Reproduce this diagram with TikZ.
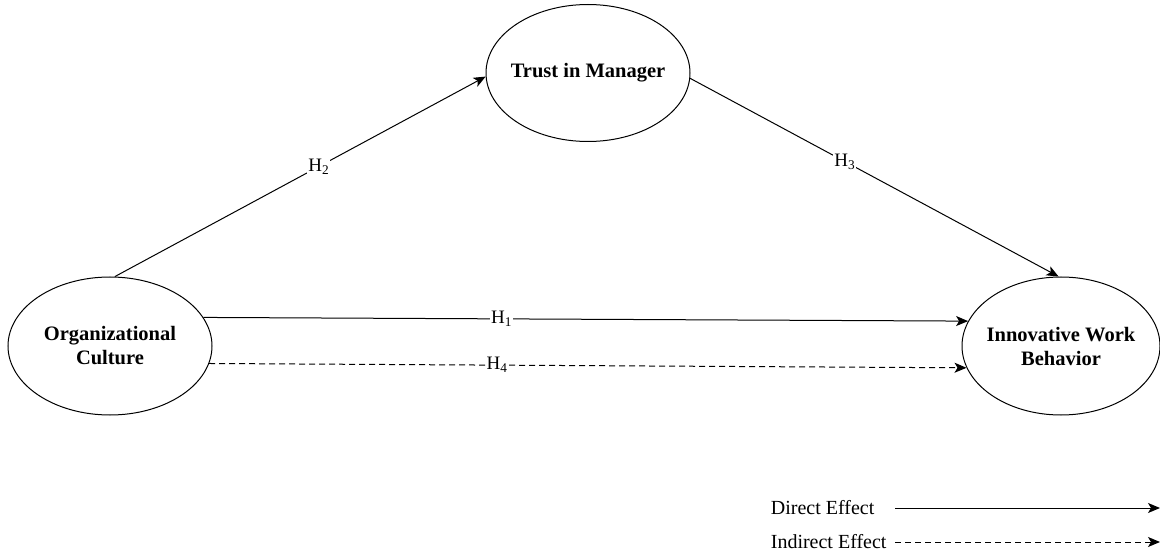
\documentclass[tikz,border=0pt]{standalone}
\usepackage{fontspec}
\setmainfont{Liberation Serif}
\usetikzlibrary{arrows.meta,positioning,shapes.geometric}

\begin{document}
\begin{tikzpicture}[x=1pt,y=-1pt,line width=1pt,every node/.style={font=\fontsize{19}{22}\selectfont},
  var/.style={draw,ellipse,inner xsep=-20pt,inner ysep=0pt,align=center,font=\fontsize{20.5}{24}\selectfont\bfseries},
  lbl/.style={fill=white,inner sep=1pt},
  eff/.style={-{Stealth[length=12pt,width=10pt,inset=3pt]}},
  ind/.style={eff,dash pattern=on 6pt off 4pt}]
\useasboundingbox (0,0) rectangle (1160,556);
\node[var,minimum width=204pt,minimum height=138pt] (oc) at (110,346) {Organizational\\Culture};
\node[var,minimum width=204pt,minimum height=137pt] (tm) at (588,73) {Trust in Manager};
\node[var,minimum width=198pt,minimum height=138pt] (iwb) at (1061,346) {Innovative Work\\Behavior};
\draw[eff](oc.86)--node[lbl,pos=.55]{H\textsubscript{2}}(tm.182);
\draw[eff](tm.-3)--node[lbl,pos=.42]{H\textsubscript{3}}(iwb.92);
\draw[eff](oc.17)--node[lbl,pos=.39]{H\textsubscript{1}}(iwb.165);
\draw[ind](oc.-10)--node[lbl,pos=.38]{H\textsubscript{4}}(iwb.-167);
% legend
\node[anchor=base west,font=\fontsize{20}{22}\selectfont] (de) at (767,514) {Direct Effect};
\node[anchor=base west,font=\fontsize{20}{22}\selectfont] (ie) at (767,548) {Indirect Effect};
\coordinate (ds) at (895,508);\coordinate (dt) at (1160,508);
\coordinate (is) at (895,542);\coordinate (it) at (1160,542);
\draw[eff](ds)--(dt);\draw[ind](is)--(it);
\end{tikzpicture}
\end{document}
